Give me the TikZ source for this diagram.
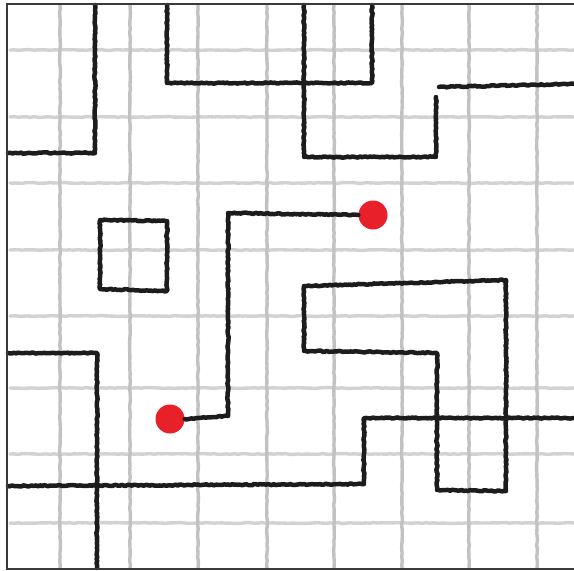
\documentclass[tikz,border=0pt]{standalone}
\usepackage{xcolor}
\usepackage{tikz}
\usetikzlibrary{positioning, arrows.meta, decorations.pathmorphing}
\definecolor{mzInk}{HTML}{1C1C1C}
\definecolor{mzGrid}{HTML}{C2C2C2}
\definecolor{mzGridH}{HTML}{D2D2D2}
\definecolor{mzDot}{HTML}{E8202A}
\definecolor{mzFrame}{HTML}{3A3A3A}
\tikzset{
  pencil/.style={draw=mzGrid, line width=3.4pt, line cap=round,
    decorate, decoration={random steps, segment length=4pt, amplitude=0.4pt}},
  wall/.style={draw=mzInk, line width=4.5pt, line cap=round, line join=round,
    decorate, decoration={random steps, segment length=2pt, amplitude=0.6pt}},
  marker/.style={circle, fill=mzDot, inner sep=0pt, minimum size=29pt}
}
\begin{document}
\pgfmathsetseed{7}
\begin{tikzpicture}[x=1pt, y=-1pt, >=Stealth]
      \useasboundingbox (0,0) rectangle (574,571);
      \fill[white] (0,0) rectangle (574,571);
      \foreach \y in {50,117,183,250,316,388,454,523} {
        \draw[pencil, draw=mzGridH] (10,\y) -- (574,\y);
      }
      \foreach \x in {60,130,198,267,334,402,469,537} {
        \draw[pencil] (\x,5) -- (\x,568);
      }
      \draw[wall] (95,5) -- (95,153) -- (8,153);
      \draw[wall] (167,5) -- (167,83) -- (372,83) -- (372,5);
      \draw[wall] (304,5) -- (304,157) -- (436,157) -- (436,97);
      \draw[wall] (439,87) -- (574,84);
      \draw[wall] (100,220) -- (167,221) -- (167,291) -- (100,289) -- cycle;
      \draw[wall] (8,353) -- (97,353) -- (97,568);
      \draw[wall] (8,486) -- (364,484) -- (364,418) -- (574,418);
      \draw[wall] (304,286) -- (506,280) -- (506,491) -- (437,490) -- (437,353) -- (304,351) -- cycle;
      \node[marker] (goal) at (373,215) {};
      \node[marker] (start) at (170,419) {};
      \draw[wall] (goal.west) -- (228,213) -- (228,416) -- (start.east);
      \draw[line width=2pt, mzFrame] (574,4) -- (7,4) -- (7,569) -- (574,569);
    \end{tikzpicture}
\end{document}
